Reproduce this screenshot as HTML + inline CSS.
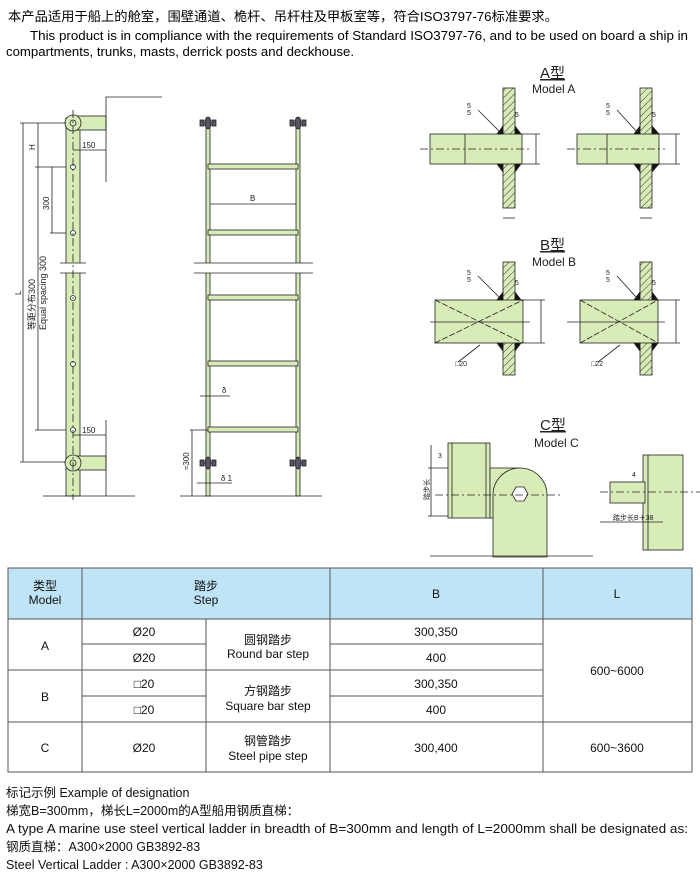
<!DOCTYPE html>
<html><head><meta charset="utf-8"><style>
body{margin:0;background:#fff;}
svg{display:block;font-family:"Liberation Sans","Noto Sans CJK SC",sans-serif;}
</style></head><body>
<svg width="700" height="873" viewBox="0 0 700 873" xmlns="http://www.w3.org/2000/svg">
<defs>
<pattern id="h" width="5" height="5" patternUnits="userSpaceOnUse" patternTransform="rotate(45)">
<rect width="5" height="5" fill="#d8ecb8"/><line x1="0" y1="0" x2="0" y2="5" stroke="#333" stroke-width="1"/></pattern>
</defs>
<text x="8" y="21" font-size="13" textLength="550" lengthAdjust="spacingAndGlyphs">本产品适用于船上的舱室，围壁通道、桅杆、吊杆柱及甲板室等，符合ISO3797-76标准要求。</text>
<text x="30" y="40" font-size="13" textLength="658" lengthAdjust="spacingAndGlyphs">This product is in compliance with the requirements of Standard ISO3797-76, and to be used on board a ship in</text>
<text x="6" y="56" font-size="13" textLength="348" lengthAdjust="spacingAndGlyphs">compartments, trunks, masts, derrick posts and deckhouse.</text>

<g stroke="#222" stroke-width="0.8" fill="none">
<rect x="66" y="118" width="14" height="378" fill="#d8ecb8"/>
<rect x="73" y="116" width="33" height="14" fill="#d8ecb8"/>
<rect x="73" y="456" width="33" height="14" fill="#d8ecb8"/>
<circle cx="73" cy="123" r="8" fill="#d8ecb8"/><circle cx="73" cy="123" r="3"/>
<circle cx="73" cy="463" r="8" fill="#d8ecb8"/><circle cx="73" cy="463" r="3"/>
<rect x="60" y="263" width="26" height="10" fill="#fff" stroke="none"/>
<line x1="60" y1="263" x2="86" y2="263"/><line x1="60" y1="273" x2="86" y2="273"/>
<g fill="#fff"><circle cx="73" cy="167" r="2.5"/><circle cx="73" cy="233" r="2.5"/><circle cx="73" cy="298" r="2.5"/><circle cx="73" cy="364" r="2.5"/><circle cx="73" cy="430" r="2.5"/></g>
<line x1="73" y1="110" x2="73" y2="500" stroke-dasharray="8,3,2,3"/>
<line x1="43" y1="496" x2="135" y2="496"/>
<path d="M106 182 V97 H162"/><path d="M106 420 V496"/>
<line x1="23" y1="123" x2="23" y2="462"/><line x1="20" y1="123" x2="66" y2="123"/><line x1="20" y1="462" x2="66" y2="462"/>
<line x1="38" y1="123" x2="38" y2="167"/><line x1="35" y1="167" x2="66" y2="167"/>
<line x1="52" y1="167" x2="52" y2="233"/><line x1="50" y1="233" x2="66" y2="233"/>
<line x1="38" y1="167" x2="38" y2="430"/><line x1="35" y1="430" x2="66" y2="430"/>
<line x1="73" y1="150" x2="106" y2="150"/><line x1="73" y1="435" x2="106" y2="435"/>
</g>
<g font-size="8" fill="#222">
<text x="82" y="148">150</text><text x="82" y="433">150</text>
<text transform="translate(35,150) rotate(-90)">H</text>
<text transform="translate(49,210) rotate(-90)">300</text>
<text transform="translate(21,295) rotate(-90)">L</text>
<text transform="translate(35,330) rotate(-90)" font-size="9">等距分布300</text>
<text transform="translate(46,330) rotate(-90)" font-size="9">Equal spacing 300</text>
</g>

<g stroke="#222" stroke-width="0.8">
<rect x="206" y="118" width="4" height="378" fill="#d8ecb8"/>
<rect x="296" y="118" width="4" height="378" fill="#d8ecb8"/>
<g fill="#d8ecb8"><rect x="208" y="164" width="90" height="5"/><rect x="208" y="230" width="90" height="5"/><rect x="208" y="295" width="90" height="5"/><rect x="208" y="361" width="90" height="5"/><rect x="208" y="427" width="90" height="5"/></g>
<rect x="194" y="263" width="120" height="10" fill="#fff" stroke="none"/>
<line x1="194" y1="263" x2="313" y2="263"/><line x1="194" y1="273" x2="313" y2="273"/>
<g fill="#556"><ellipse cx="208" cy="123" rx="3" ry="6"/><ellipse cx="298" cy="123" rx="3" ry="6"/><ellipse cx="208" cy="463" rx="3" ry="6"/><ellipse cx="298" cy="463" rx="3" ry="6"/>
<rect x="200" y="120" width="4" height="6"/><rect x="212" y="120" width="4" height="6"/><rect x="290" y="120" width="4" height="6"/><rect x="302" y="120" width="4" height="6"/>
<rect x="200" y="460" width="4" height="6"/><rect x="212" y="460" width="4" height="6"/><rect x="290" y="460" width="4" height="6"/><rect x="302" y="460" width="4" height="6"/></g>
<line x1="180" y1="496" x2="322" y2="496"/>
<line x1="210" y1="204" x2="296" y2="204"/>
<line x1="190" y1="430" x2="208" y2="430"/><line x1="192" y1="430" x2="192" y2="496"/>
<line x1="200" y1="396" x2="230" y2="396"/><line x1="197" y1="483" x2="232" y2="483"/>
</g>
<g font-size="8" fill="#222"><text x="250" y="201">B</text><text x="222" y="393">δ</text><text x="221" y="481">δ 1</text>
<text transform="translate(189,470) rotate(-90)">≈300</text></g>

<g fill="#222">
<text x="540" y="78" text-decoration="underline" font-size="15">A型</text><text x="532" y="93" font-size="12">Model A</text>
<text x="540" y="250" text-decoration="underline" font-size="15">B型</text><text x="532" y="266" font-size="12">Model B</text>
<text x="540" y="430" text-decoration="underline" font-size="15">C型</text><text x="534" y="447" font-size="12">Model C</text>
</g>
<g stroke="#222" stroke-width="0.8">
<rect x="503" y="88" width="12" height="120" fill="url(#h)"/>
<rect x="430" y="134" width="92" height="30" fill="#d8ecb8"/>
<line x1="465" y1="134" x2="465" y2="164"/><line x1="420" y1="149" x2="530" y2="149" stroke-dasharray="8,3,2,3"/>
<path d="M497 134 L503 126 L503 134Z M515 126 L521 134 L515 134Z M497 164 L503 172 L503 164Z M515 172 L521 164 L515 164Z" fill="#111"/>
<line x1="522" y1="134" x2="540" y2="134"/><line x1="522" y1="164" x2="540" y2="164"/><line x1="536" y1="134" x2="536" y2="164"/>
<line x1="478" y1="110" x2="500" y2="132"/><line x1="503" y1="218" x2="515" y2="218"/>
<rect x="640" y="88" width="12" height="120" fill="url(#h)"/>
<rect x="577" y="134" width="82" height="30" fill="#d8ecb8"/>
<line x1="607" y1="134" x2="607" y2="164"/><line x1="567" y1="149" x2="665" y2="149" stroke-dasharray="8,3,2,3"/>
<path d="M634 134 L640 126 L640 134Z M652 126 L659 134 L652 134Z M634 164 L640 172 L640 164Z M652 172 L659 164 L652 164Z" fill="#111"/>
<line x1="659" y1="134" x2="680" y2="134"/><line x1="659" y1="164" x2="680" y2="164"/><line x1="676" y1="134" x2="676" y2="164"/>
<line x1="617" y1="110" x2="637" y2="132"/><line x1="640" y1="218" x2="652" y2="218"/>
<rect x="503" y="262" width="12" height="113" fill="url(#h)"/>
<rect x="435" y="300" width="88" height="43" fill="#d8ecb8"/>
<path d="M435 300 L523 343 M435 343 L523 300" stroke-dasharray="6,2"/>
<line x1="430" y1="322" x2="530" y2="322"/>
<path d="M497 300 L503 292 L503 300Z M515 292 L521 300 L515 300Z M497 343 L503 351 L503 343Z M515 351 L521 343 L515 343Z" fill="#111"/>
<line x1="523" y1="300" x2="545" y2="300"/><line x1="523" y1="343" x2="545" y2="343"/><line x1="541" y1="300" x2="541" y2="343"/>
<line x1="478" y1="276" x2="500" y2="298"/><line x1="480" y1="345" x2="458" y2="362"/>
<rect x="640" y="262" width="12" height="113" fill="url(#h)"/>
<rect x="580" y="300" width="78" height="43" fill="#d8ecb8"/>
<path d="M580 300 L658 343 M580 343 L658 300" stroke-dasharray="6,2"/>
<line x1="567" y1="322" x2="665" y2="322"/>
<path d="M634 300 L640 292 L640 300Z M652 292 L658 300 L652 300Z M634 343 L640 351 L640 343Z M652 351 L658 343 L652 343Z" fill="#111"/>
<line x1="658" y1="300" x2="680" y2="300"/><line x1="658" y1="343" x2="680" y2="343"/><line x1="676" y1="300" x2="676" y2="343"/>
<line x1="617" y1="276" x2="637" y2="298"/><line x1="620" y1="345" x2="598" y2="362"/>
<rect x="448" y="443" width="42" height="75" fill="#d8ecb8"/>
<line x1="452" y1="443" x2="452" y2="518"/><line x1="486" y1="443" x2="486" y2="518"/>
<rect x="490" y="468" width="30" height="50" fill="#d8ecb8"/>
<path d="M493 557 V495 A27 27 0 0 1 547 495 V557Z" fill="#d8ecb8"/>
<path d="M516 487 l8 0 l4 7 l-4 7 l-8 0 l-4 -7z" fill="#fff"/>
<line x1="435" y1="495" x2="560" y2="495" stroke-dasharray="8,3,2,3"/>
<line x1="430" y1="556" x2="593" y2="556"/>
<line x1="428" y1="468" x2="448" y2="468"/><line x1="428" y1="516" x2="448" y2="516"/><line x1="431" y1="445" x2="431" y2="516"/>
<rect x="643" y="455" width="40" height="95" fill="#d8ecb8"/>
<line x1="648" y1="455" x2="648" y2="550"/>
<rect x="610" y="482" width="35" height="21" fill="#d8ecb8"/>
<line x1="600" y1="492" x2="700" y2="492" stroke-dasharray="8,3,2,3"/>
<line x1="600" y1="522" x2="663" y2="522"/>
</g>
<g font-size="7" fill="#222"><text x="467" y="108">5</text><text x="467" y="115">5</text><text x="515" y="117">5</text>
<text x="606" y="108">5</text><text x="606" y="115">5</text><text x="652" y="117">5</text>
<text x="467" y="275">5</text><text x="467" y="282">5</text><text x="515" y="285">5</text>
<text x="606" y="275">5</text><text x="606" y="282">5</text><text x="652" y="285">5</text>
<text x="455" y="366">□20</text><text x="591" y="366">□22</text>
<text x="438" y="458">3</text><text x="632" y="477">4</text><text x="613" y="520">踏步长B＋38</text>
<text transform="translate(429,500) rotate(-90)">踏步长</text></g>

<g stroke="#555" stroke-width="1">
<rect x="8" y="568" width="684" height="51" fill="#bfe4f6"/>
<rect x="8" y="619" width="684" height="153" fill="#fff"/>
<line x1="82" y1="568" x2="82" y2="772"/>
<line x1="206" y1="619" x2="206" y2="772"/>
<line x1="330" y1="568" x2="330" y2="772"/>
<line x1="543" y1="568" x2="543" y2="772"/>
<line x1="8" y1="670" x2="543" y2="670"/>
<line x1="8" y1="722" x2="692" y2="722"/>
<line x1="82" y1="644" x2="206" y2="644"/><line x1="330" y1="644" x2="543" y2="644"/>
<line x1="82" y1="696" x2="206" y2="696"/><line x1="330" y1="696" x2="543" y2="696"/>
</g>
<g font-size="12" fill="#111" text-anchor="middle">
<text x="45" y="590">类型</text><text x="45" y="604">Model</text>
<text x="206" y="590">踏步</text><text x="206" y="604">Step</text>
<text x="436" y="598">B</text><text x="617" y="598">L</text>
<text x="45" y="650">A</text><text x="45" y="701">B</text><text x="45" y="752">C</text>
<text x="144" y="636">Ø20</text><text x="144" y="662">Ø20</text>
<text x="144" y="688">□20</text><text x="144" y="714">□20</text><text x="144" y="752">Ø20</text>
<text x="268" y="644">圆钢踏步</text><text x="268" y="658">Round bar step</text>
<text x="268" y="695">方钢踏步</text><text x="268" y="710">Square bar step</text>
<text x="268" y="745">钢管踏步</text><text x="268" y="760">Steel pipe step</text>
<text x="436" y="636">300,350</text><text x="436" y="662">400</text>
<text x="436" y="688">300,350</text><text x="436" y="714">400</text><text x="436" y="752">300,400</text>
<text x="617" y="675">600~6000</text><text x="617" y="752">600~3600</text>
</g>
<g font-size="12.5" fill="#111">
<text x="6" y="797">标记示例  Example of designation</text>
<text x="6" y="815">梯宽B=300mm，梯长L=2000m的A型船用钢质直梯：</text>
<text x="6" y="833" textLength="682" lengthAdjust="spacingAndGlyphs">A type A marine use steel vertical ladder in breadth of B=300mm and length of L=2000mm shall be designated as:</text>
<text x="6" y="851">钢质直梯：A300×2000  GB3892-83</text>
<text x="6" y="869">Steel Vertical Ladder : A300×2000 GB3892-83</text>
</g>
</svg>
</body></html>
